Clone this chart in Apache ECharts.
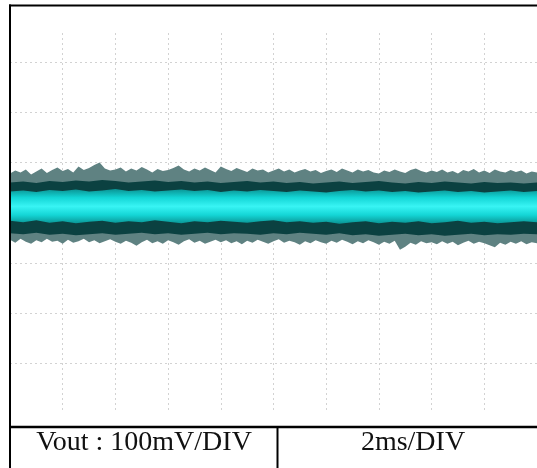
<!DOCTYPE html>
<html>
<head>
<meta charset="utf-8">
<script src="https://cdn.jsdelivr.net/npm/echarts@6/dist/echarts.min.js"></script>
<style>
html,body{margin:0;padding:0;background:#fff;}
#chart{width:537px;height:468px;}
</style>
</head>
<body>
<div id="chart"></div>
<script>
// Oscilloscope noise trace, values in mV (100 mV per vertical division), x in time divisions (2 ms/div)
// Outer spike envelope, sampled every 0.1 div
const spikeTop = [78,84,80,86,76,82,88,79,85,90, 83,87,80,92,85,89,95,100,88,84, 86,90,82,88,84,91,86,80,87,83, 85,89,94,86,82,88,84,90,85,80, 92,87,83,89,85,81,88,84,86,80, 84,88,82,86,80,84,87,82,85,79, 83,86,81,88,84,80,86,82,85,80, 78,84,81,86,82,79,85,88,83,80, 84,81,86,80,83,78,85,82,87,80, 84,79,86,82,80,85,81,84,78,82,80];
const spikeBot = [-54,-60,-52,-58,-62,-55,-59,-52,-58,-56, -62,-54,-60,-57,-52,-59,-55,-61,-57,-53, -58,-62,-56,-60,-66,-59,-54,-61,-57,-62, -55,-59,-64,-57,-53,-60,-56,-62,-58,-54, -59,-55,-61,-57,-63,-56,-60,-54,-58,-62, -57,-53,-60,-56,-59,-64,-57,-61,-55,-59, -62,-56,-60,-54,-58,-63,-57,-61,-55,-59, -64,-58,-62,-56,-74,-68,-60,-64,-57,-61, -59,-63,-57,-62,-58,-65,-60,-56,-62,-58, -61,-65,-69,-60,-64,-58,-62,-57,-63,-59,-61];
// Dense dark band, sampled every 0.25 div
const denseTop = [60,62,59,63,61,64,62,65,63,60, 62,64,61,63,60,62,59,61,63,60, 62,59,61,58,60,62,59,61,63,60, 58,61,59,62,60,58,61,59,60,58,60];
const denseBot = [-41,-43,-40,-44,-42,-45,-43,-41,-44,-42, -40,-43,-41,-44,-42,-40,-43,-41,-42,-44, -41,-43,-40,-42,-44,-41,-45,-43,-46,-44, -42,-45,-43,-46,-44,-42,-45,-43,-44,-42,-43];
// Bright cyan core, sampled every 0.25 div
const coreTop = [42,44,41,45,43,46,42,44,47,43, 45,42,44,46,43,45,41,44,42,45, 43,41,44,42,40,43,45,42,44,41, 43,40,42,44,41,43,40,42,44,41,43];
const coreBot = [-16,-19,-15,-20,-17,-21,-18,-16,-20,-17, -19,-15,-18,-21,-17,-19,-16,-18,-20,-17, -15,-19,-17,-20,-18,-22,-19,-17,-21,-18, -20,-17,-21,-19,-16,-20,-18,-21,-19,-17,-19];

const fineStep = 0.1, coarseStep = 0.25;
const chLabel = 'Vout : 100mV/DIV';
const tbLabel = '2ms/DIV';

function band(id, step, lo, hi, fill) {
  const data = lo.map((v, i) => [i * step, v, hi[i]]);
  return {
    type:'custom', name:id, silent:true, xAxisIndex:0, yAxisIndex:0,
    encode:{x:0, y:[1,2]},
    data:data,
    renderItem:function(params, api){
      if (params.dataIndex !== 0) return null;
      const upper = data.map(d => api.coord([d[0], d[2]]));
      const lower = data.map(d => api.coord([d[0], d[1]])).reverse();
      return {type:'polygon', shape:{points:upper.concat(lower)}, style:{fill:fill}};
    }
  };
}

const chart = echarts.init(document.getElementById('chart'), null, {renderer:'canvas'});
const dotted = {show:true, lineStyle:{color:'#d2d2d2', width:1, type:[2,3]}, showMinLine:false, showMaxLine:false};

chart.setOption({
  animation:false,
  backgroundColor:'#ffffff',
  grid:[
    {left:10, top:11.8, width:533.3, height:401.6, containLabel:false},
    {left:10, top:33, width:533.3, height:377, containLabel:false}
  ],
  xAxis:[
    {type:'value', gridIndex:0, min:0, max:10, interval:1, axisLine:{show:false}, axisTick:{show:false}, axisLabel:{show:false}, splitLine:{show:false}},
    {type:'value', gridIndex:1, min:0, max:10, interval:1, axisLine:{show:false}, axisTick:{show:false}, axisLabel:{show:false}, splitLine:dotted}
  ],
  yAxis:[
    {type:'value', gridIndex:0, min:-400, max:400, interval:100, axisLine:{show:false}, axisTick:{show:false}, axisLabel:{show:false}, splitLine:dotted},
    {type:'value', gridIndex:1, min:0, max:1, axisLine:{show:false}, axisTick:{show:false}, axisLabel:{show:false}, splitLine:{show:false}}
  ],
  series:[
    band('spike', fineStep, spikeBot, spikeTop, '#5f8282'),
    band('dense', coarseStep, denseBot, denseTop, '#0b4141'),
    band('core', coarseStep, coreBot, coreTop, {type:'linear', x:0, y:0, x2:0, y2:1, colorStops:[
      {offset:0, color:'#0a9494'}, {offset:0.25, color:'#14d6d6'}, {offset:0.5, color:'#38f4f4'}, {offset:0.75, color:'#14d6d6'}, {offset:1, color:'#0a9494'}]})
  ],
  graphic:[
    {type:'line', z:100, shape:{x1:9, y1:5.5, x2:537, y2:5.5}, style:{stroke:'#000', lineWidth:2}},
    {type:'line', z:100, shape:{x1:10, y1:4.5, x2:10, y2:468}, style:{stroke:'#000', lineWidth:2}},
    {type:'line', z:100, shape:{x1:9, y1:427, x2:537, y2:427}, style:{stroke:'#000', lineWidth:2.5}},
    {type:'line', z:100, shape:{x1:277.5, y1:427, x2:277.5, y2:468}, style:{stroke:'#000', lineWidth:2}},
    {type:'rect', z:99, shape:{x:11, y:428, width:526, height:40}, style:{fill:'#fff'}},
    {type:'text', z:101, x:144, y:443, style:{text:chLabel, font:'28px "Liberation Serif"', fill:'#111', textAlign:'center', textVerticalAlign:'middle'}},
    {type:'text', z:101, x:413, y:443, style:{text:tbLabel, font:'28px "Liberation Serif"', fill:'#111', textAlign:'center', textVerticalAlign:'middle'}}
  ]
});
</script>
</body>
</html>
